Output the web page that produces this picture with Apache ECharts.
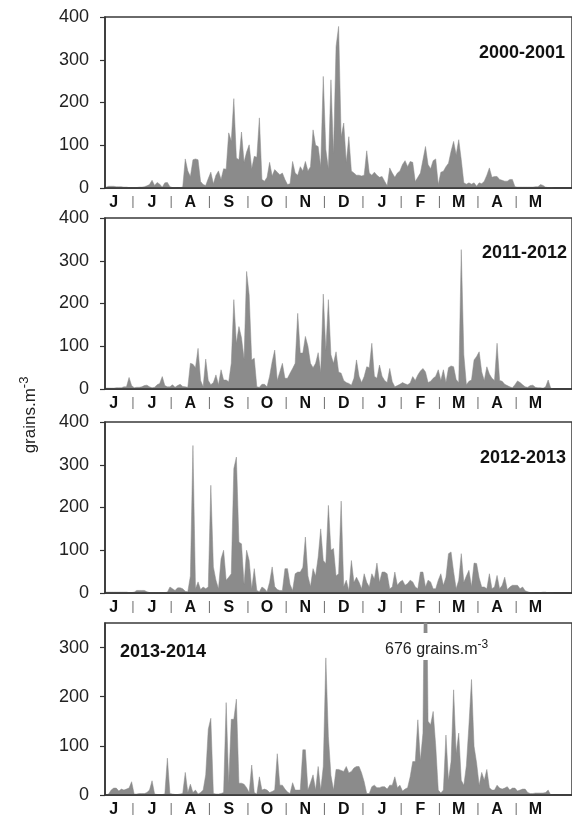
<!DOCTYPE html>
<html><head><meta charset="utf-8">
<script src="https://cdn.jsdelivr.net/npm/echarts@6/dist/echarts.min.js"></script>
<style>html,body{margin:0;padding:0;background:#fff}#c{width:572px;height:819px}</style>
</head><body><div id="c"></div>
<script>
// Month initials (June -> May) and panel names
const months = ['J','J','A','S','O','N','D','J','F','M','A','M'];
const seasons = ['2000-2001','2011-2012','2012-2013','2013-2014'];
const yTicks = [0,100,200,300,400];
const yTicksLast = [0,100,200,300];
// Daily pollen (grains.m-3), ~2-day steps, 15 values per month, June..May
const s2000 = [
 0,0,0,0,2,4,4,4,3,3,3,2,2,1,1,
 1,1,2,2,3,5,8,18,6,13,9,2,12,13,3,
 1,1,0,1,2,68,40,27,66,68,66,15,8,6,22,
 37,10,30,40,20,45,44,129,110,209,70,66,131,60,84,
 101,45,74,72,164,20,16,25,60,28,43,37,31,35,20,
 8,10,62,35,30,50,40,62,40,50,136,100,97,50,261,
 90,45,253,80,331,378,120,152,60,120,40,35,30,30,28,
 30,87,35,30,37,30,25,27,16,5,47,35,25,35,40,
 55,64,50,62,60,15,25,35,66,97,55,45,64,68,8,
 37,39,50,58,86,109,78,113,66,12,9,12,9,12,4,
 12,10,16,30,47,25,27,27,20,18,16,16,20,20,3,
 2,2,2,2,2,2,2,3,3,8,6,2,1,1,0
];
const s2011 = [
 0,0,0,0,2,2,2,2,3,3,3,5,5,27,8,
 3,4,4,5,8,9,5,3,4,10,13,29,8,5,5,
 10,4,8,11,6,5,4,60,58,50,95,20,5,70,20,
 10,15,33,10,45,21,21,17,60,209,107,146,120,70,275,
 220,68,72,5,4,11,11,5,30,64,91,20,40,60,25,
 25,37,48,60,177,84,84,123,100,60,50,60,85,40,222,
 90,209,80,60,87,40,37,20,15,13,9,25,68,30,15,
 29,52,50,107,30,25,56,30,20,15,48,17,5,8,11,
 15,12,10,14,29,20,33,42,48,40,15,18,25,30,45,
 20,45,15,50,54,52,22,15,326,80,10,18,21,68,76,
 87,40,20,52,35,25,20,107,20,18,11,8,5,3,10,
 19,15,10,5,4,8,9,4,3,3,2,5,21,2,0
];
const s2012 = [
 0,0,0,0,2,2,2,2,2,2,2,2,2,1,1,
 2,6,6,6,6,3,1,1,1,1,1,1,1,2,14,
 10,6,12,12,10,4,3,40,345,10,26,8,14,10,14,
 252,61,30,10,80,100,30,37,45,291,318,119,115,20,100,
 76,10,57,6,3,14,10,3,25,61,15,8,6,6,57,
 57,20,6,45,49,49,60,131,40,15,57,40,84,150,76,
 69,205,100,104,40,45,215,15,30,6,76,25,37,25,10,
 45,25,14,45,33,70,25,49,49,45,10,14,49,18,26,
 30,18,22,30,26,14,10,49,49,14,30,26,10,10,30,
 45,18,37,92,96,50,10,30,92,25,40,53,15,70,69,
 35,14,14,10,45,10,14,41,10,18,37,8,14,18,18,
 18,10,14,5,3,1,1,0,0,1,2,2,0,0,0
];
const s2013 = [
 0,0,0,0,0,2,10,14,14,8,12,10,12,14,27,
 2,2,3,3,3,5,10,29,2,1,1,1,2,75,3,
 2,1,1,2,3,46,5,22,5,10,2,5,10,41,134,
 156,3,2,2,3,5,188,24,154,154,195,24,24,22,15,
 5,61,5,2,37,10,12,10,5,7,10,84,20,20,12,
 6,3,25,10,10,10,92,92,10,25,41,10,58,10,58,
 279,119,40,10,52,52,50,48,58,45,48,55,58,58,45,
 27,3,3,17,20,15,15,17,17,12,20,20,37,15,20,
 8,12,15,37,68,68,153,70,126,676,150,143,170,100,10,
 4,10,122,30,68,214,85,126,30,20,60,143,235,99,65,
 20,46,30,52,15,10,10,20,14,12,14,17,10,14,14,
 8,10,12,12,5,3,3,4,4,4,4,5,10,0,0
];
const peakLabel = '676';

const PER_MONTH = 15;
const XMIN = 0.2727, XMAX = 12.455;
const FONT = '"Liberation Sans", Arial, sans-serif';
const FILL = '#8b8b8b';
const layout = [
  {top:17, height:171, max:400, ticks:yTicks},
  {top:218, height:171, max:400, ticks:yTicks},
  {top:422, height:171, max:400, ticks:yTicks},
  {top:623, height:172, max:350, ticks:yTicksLast}
];
const seriesData = [s2000, s2011, s2012, s2013];

const mids = months.map((m,i)=>i+0.5);
const seps = months.slice(1).map((m,i)=>i+1);

const grid=[], xAxis=[], yAxis=[], series=[];
layout.forEach((L,i)=>{
  grid.push({left:105, right:-2, top:L.top, height:L.height, show:true, borderColor:'#3a3a3a', borderWidth:1.5, backgroundColor:'transparent'});
  xAxis.push({type:'value', gridIndex:i, min:XMIN, max:XMAX, z:5,
    axisLine:{show:true, onZero:false, lineStyle:{color:'#333', width:1.5}},
    axisTick:{show:false}, splitLine:{show:false},
    axisLabel:{customValues:mids, formatter:v=>months[Math.floor(v)], fontFamily:FONT, fontWeight:'bold', fontSize:16, color:'#111', margin:7}
  });
  xAxis.push({type:'value', gridIndex:i, min:XMIN, max:XMAX, position:'bottom',
    axisLine:{show:false}, axisTick:{show:false}, splitLine:{show:false},
    axisLabel:{customValues:seps, formatter:()=>'|', fontFamily:FONT, fontSize:13, color:'#777', margin:7}
  });
  yAxis.push({type:'value', gridIndex:i, min:0, max:L.max, interval:100, z:5,
    axisLine:{show:true, lineStyle:{color:'#333', width:1.5}},
    axisTick:{show:true, length:5, customValues:L.ticks, lineStyle:{color:'#333', width:1.2}},
    splitLine:{show:false},
    axisLabel:{customValues:L.ticks, fontFamily:FONT, fontSize:18, color:'#222', margin:16}
  });
  series.push({type:'line', xAxisIndex:2*i, yAxisIndex:i, symbol:'none', silent:true, clip:true,
    lineStyle:{width:0.5, color:FILL}, areaStyle:{color:FILL, opacity:1},
    data:seriesData[i].map((v,k)=>[(k+0.5)/PER_MONTH, v])
  });
});

const titlePos = [
  {x:565, y:53, align:'right'},
  {x:567, y:253, align:'right'},
  {x:566, y:458, align:'right'},
  {x:120, y:652, align:'left'}
];
const graphic = seasons.map((s,i)=>({type:'text', z:100, x:titlePos[i].x, y:titlePos[i].y,
  style:{text:s, font:'bold 18px '+FONT, fill:'#111', align:titlePos[i].align, verticalAlign:'middle', textAlign:titlePos[i].align, textVerticalAlign:'middle'}}));
graphic.push({type:'rect', z:99, shape:{x:380, y:633, width:115, height:27}, style:{fill:'#fff'}});
graphic.push({type:'text', z:101, x:385, y:650,
  style:{text:peakLabel+' grains.m{sup|-3}', font:'16px '+FONT, fill:'#222', align:'left', verticalAlign:'middle', textAlign:'left', textVerticalAlign:'middle',
   rich:{sup:{fontSize:12, fontFamily:FONT, fill:'#222', color:'#222', padding:[0,0,10,0]}}}});
graphic.push({type:'text', z:101, x:30, y:415, rotation:Math.PI/2,
  style:{text:'grains.m{sup|-3}', font:'17px '+FONT, fill:'#222', align:'center', verticalAlign:'middle', textAlign:'center', textVerticalAlign:'middle',
   rich:{sup:{fontSize:13, fontFamily:FONT, fill:'#222', color:'#222', padding:[0,0,11,0]}}}});

const chart = echarts.init(document.getElementById('c'), null, {renderer:'canvas'});
chart.setOption({animation:false, textStyle:{fontFamily:FONT}, grid, xAxis, yAxis, series, graphic});
</script></body></html>
